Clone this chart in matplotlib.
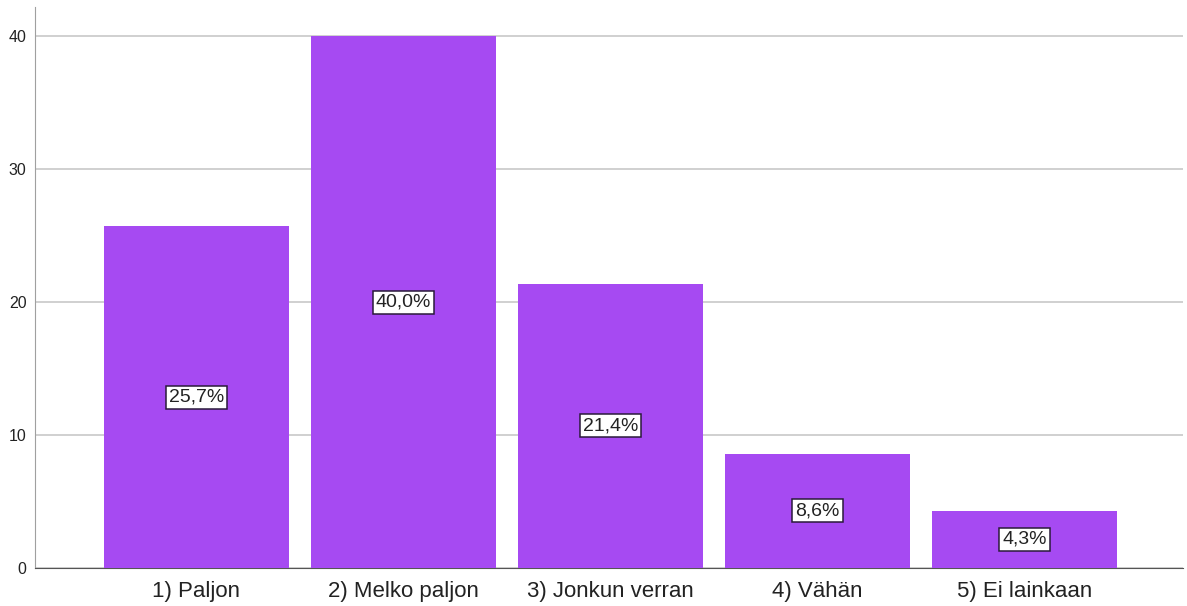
import numpy as np
import matplotlib.pyplot as plt

plt.rcParams['font.family'] = ['Liberation Sans', 'DejaVu Sans']

# vastausvaihtoehdot ja osuudet (%)
luokat = ["1) Paljon", "2) Melko paljon", "3) Jonkun verran", "4) Vähän", "5) Ei lainkaan"]
osuudet = [25.7, 40.0, 21.4, 8.6, 4.3]
y_tikit = [0, 10, 20, 30, 40]

fig = plt.figure(figsize=(11.87, 6.06), dpi=100)
ax = fig.add_axes([35 / 1187, 38 / 606, 1148 / 1187, 561 / 606])

x = np.arange(len(luokat))
ax.bar(x, osuudet, width=0.895, color="#A64AF2", zorder=3)

for xi, v in zip(x, osuudet):
    teksti = f"{v:.1f}%".replace(".", ",")
    ax.text(xi, v / 2, teksti, ha="center", va="center", fontsize=14, color="#222222",
            zorder=4, bbox=dict(boxstyle="square,pad=0.15", fc="white", ec="#2a1a3a", lw=1.1))

ax.set_xlim(-0.78, 4.766)
ax.set_ylim(0, 42.2)
ax.set_xticks(x)
ax.set_xticklabels(luokat, fontsize=16, color="#222222")
ax.set_yticks(y_tikit)
ax.set_yticklabels([str(t) for t in y_tikit], fontsize=11.5, color="#222222")
ax.tick_params(axis="both", length=0)
ax.tick_params(axis="x", pad=9)
ax.tick_params(axis="y", pad=6)

ax.yaxis.grid(True, color="#c8c8c8", lw=1.2, zorder=0)
for s in ["top", "right"]:
    ax.spines[s].set_visible(False)
ax.spines["left"].set_color("#a0a0a0")
ax.spines["bottom"].set_color("#555555")

fig.savefig("out.png", dpi=100)
